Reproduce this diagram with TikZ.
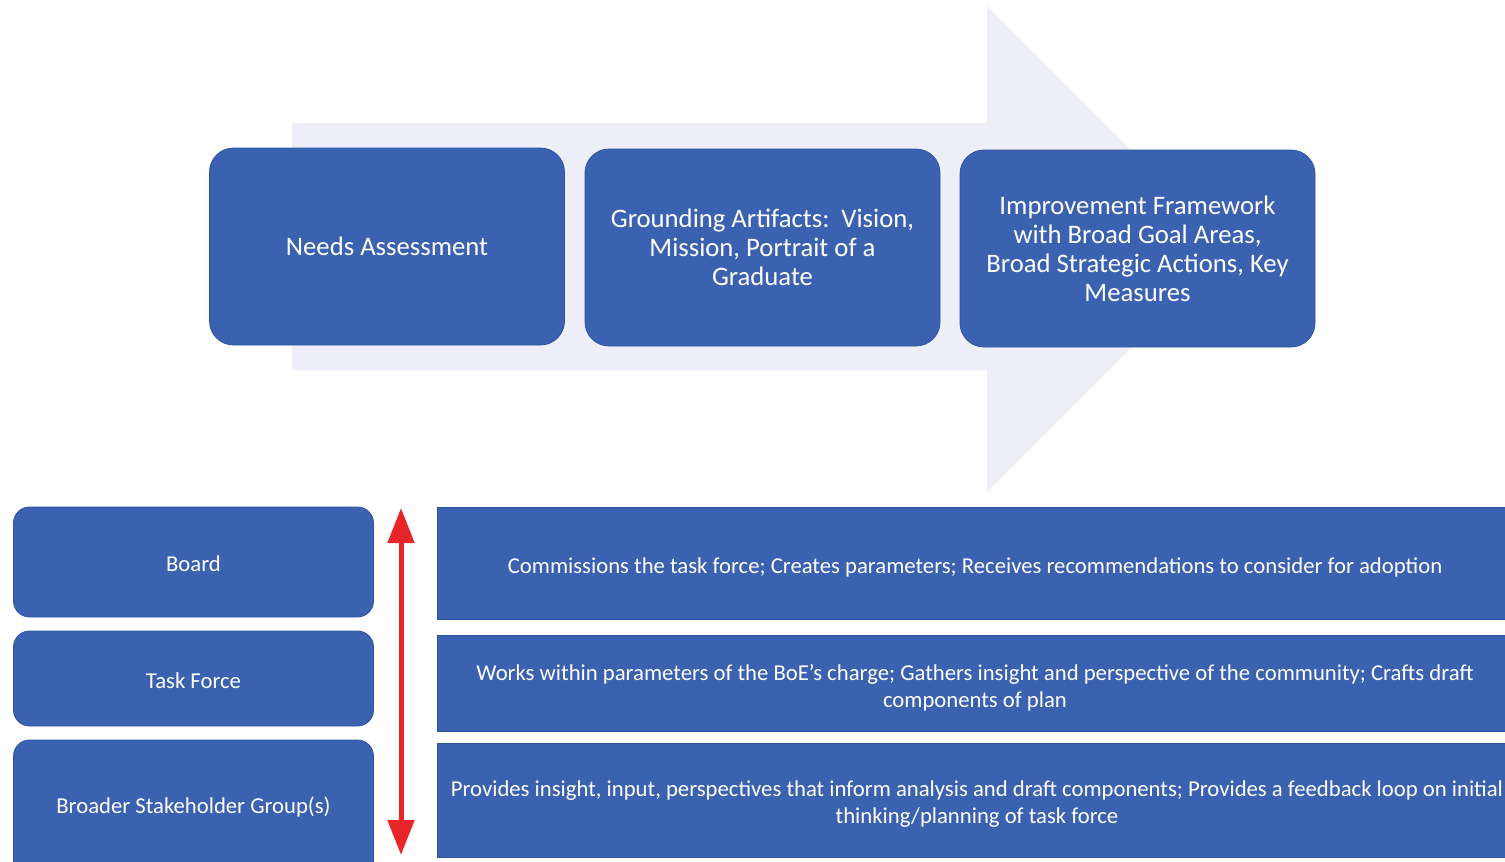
\documentclass[tikz,border=0pt]{standalone}
\usepackage{fontspec}
\setmainfont{Carlito}
\usetikzlibrary{arrows.meta}
\definecolor{boxblue}{HTML}{3B62B1}
\definecolor{boxedge}{HTML}{2E54A0}
\definecolor{bgarrow}{HTML}{EDEEF7}
\definecolor{redarrow}{HTML}{E8262A}
\tikzset{
  topbox/.style={fill=boxblue, draw=boxedge, line width=0.8pt, rounded corners=24pt, text=white,
    minimum width=355pt, minimum height=197pt, align=center, font=\fontsize{26.7}{29}\selectfont, inner sep=0pt},
  rolebox/.style={fill=boxblue, draw=boxedge, line width=0.8pt, rounded corners=16pt, text=white,
    minimum width=360pt, align=center, font=\fontsize{22.7}{27}\selectfont, inner sep=0pt},
  descbox/.style={fill=boxblue, draw=boxedge, line width=0.8pt, text=white,
    align=center, font=\fontsize{22.7}{27}\selectfont, inner sep=0pt},
  desctext/.style={text=white, align=center, font=\fontsize{22.7}{27}\selectfont},
}
\begin{document}
\begin{tikzpicture}[x=1pt,y=-1pt]
\useasboundingbox (0,0) rectangle (1505,862);
% background process arrow
\fill[bgarrow] (292,123) -- (987,123) -- (987,6) -- (1230,249) -- (987,492) -- (987,370) -- (292,370) -- cycle;
% top boxes
\node[topbox] (na) at (387,246.5) {Needs Assessment};
\node[topbox] (ga) at (762.5,247.5) {Grounding Artifacts:\ \ Vision,\\Mission, Portrait of a\\Graduate};
\node[topbox] (if) at (1137.5,248.5) {Improvement Framework\\with Broad Goal Areas,\\Broad Strategic Actions, Key\\Measures};
% role boxes
\node[rolebox, minimum height=110pt] (board) at (193.5,562) {};
\node[rolebox, minimum height=95pt] (tf) at (193.5,678.5) {};
\begin{scope}
\clip (0,0) rectangle (1505,862);
\node[rolebox, minimum height=150pt] (bsg) at (193.5,815) {};
\node[descbox, minimum width=1090pt, minimum height=112pt] (d1) at (982,563) {};
\node[descbox, minimum width=1090pt, minimum height=96pt] (d2) at (982,683) {};
\node[descbox, minimum width=1090pt, minimum height=114pt] (d3) at (982,800) {};
\end{scope}
\node[desctext] (boardt) at (193.5,564) {Board};
\node[desctext] (tft) at (193.5,681) {Task Force};
\node[desctext] (bsgt) at (193.5,807) {Broader Stakeholder Group(s)};
\node[desctext] (t1) at (975,567) {Commissions the task force; Creates parameters; Receives recommendations to consider for adoption};
\node[desctext] (t2) at (975,688) {Works within parameters of the BoE’s charge; Gathers insight and perspective of the community; Crafts draft\\components of plan};
\node[desctext] (t3) at (977,804) {Provides insight, input, perspectives that inform analysis and draft components; Provides a feedback loop on initial\\thinking/planning of task force};
% red double arrow
\coordinate (atop) at (401,508);
\coordinate (abot) at (401,855);
\draw[redarrow, line width=5pt, {Triangle[width=26pt,length=35pt]}-{Triangle[width=26pt,length=35pt]}] (atop) -- (abot);
\end{tikzpicture}
\end{document}
